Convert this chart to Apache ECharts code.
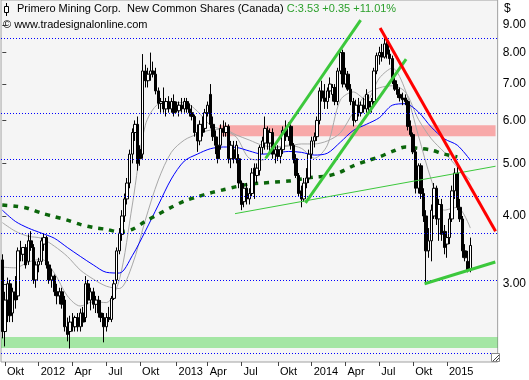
<!DOCTYPE html>
<html><head><meta charset="utf-8">
<script src="https://cdn.jsdelivr.net/npm/echarts@6/dist/echarts.min.js"></script>
<style>html,body{margin:0;padding:0;background:#fff;}#c{width:529px;height:380px;}</style>
</head><body><div id="c"></div>
<script>
// ---- data ----
const startDate = [2011, 8, 26];   // first weekly bar (Mon 26 Sep 2011)
const totalSlots = 191;            // weekly slots on the axis (incl. empty right margin)
// weekly bars: [open, high, low, close]
const weeklyOHLC = [
[3.32,3.40,2.38,2.45],[2.45,2.90,2.30,2.80],[2.80,3.08,2.55,3.00],[3.00,3.05,2.55,2.62],[2.65,2.95,2.55,2.90],
[2.90,3.10,2.70,2.80],[2.85,3.50,2.80,3.45],[3.45,3.60,3.30,3.40],[3.40,3.50,3.30,3.50],[3.50,3.55,3.20,3.25],
[3.30,3.70,3.25,3.60],[3.60,3.75,3.45,3.50],[3.50,3.55,3.00,3.05],[3.05,3.30,2.95,3.25],[3.25,3.35,3.15,3.30],
[3.30,3.65,3.25,3.60],[3.55,3.72,3.45,3.65],[3.65,3.68,3.20,3.25],[3.25,3.30,3.00,3.05],[3.05,3.20,2.95,3.10],
[3.10,3.12,2.85,2.90],[2.90,3.00,2.75,2.85],[2.85,2.95,2.75,2.90],[2.90,2.95,2.70,2.75],[2.80,2.85,2.45,2.50],
[2.50,2.60,2.35,2.42],[2.45,2.62,2.28,2.55],[2.55,2.65,2.45,2.50],[2.50,2.62,2.45,2.60],[2.60,2.65,2.45,2.50],
[2.50,2.70,2.45,2.65],[2.65,2.72,2.50,2.55],[2.60,3.10,2.55,3.00],[3.00,3.05,2.75,2.80],[2.80,2.95,2.68,2.90],
[2.90,2.95,2.70,2.75],[2.75,2.85,2.65,2.80],[2.80,2.85,2.60,2.65],[2.65,2.80,2.55,2.60],[2.60,2.65,2.34,2.50],
[2.50,2.65,2.45,2.60],[2.60,2.72,2.55,2.58],[2.58,2.85,2.55,2.82],[2.82,3.05,2.80,3.00],[3.05,3.50,3.00,3.45],
[3.45,3.80,3.40,3.72],[3.70,4.10,3.60,4.00],[4.00,4.40,3.90,4.30],[4.30,4.70,4.20,4.60],[4.60,5.30,4.50,5.20],
[5.20,5.80,5.00,5.70],[5.70,6.00,5.50,5.90],[5.90,6.10,4.85,5.00],[5.30,5.40,4.95,5.10],[5.20,7.95,5.10,7.40],
[7.40,7.60,6.90,7.10],[7.10,7.50,6.90,7.30],[7.30,8.00,7.10,7.40],[7.40,7.70,7.20,7.30],[7.30,7.50,6.70,6.80],
[6.80,6.90,6.30,6.45],[6.45,6.60,6.20,6.50],[6.50,6.90,6.20,6.30],[6.30,6.60,6.10,6.50],[6.50,6.65,6.20,6.30],
[6.30,6.60,6.20,6.50],[6.50,6.70,6.10,6.20],[6.40,6.50,6.20,6.25],[6.25,6.50,6.10,6.40],[6.40,6.60,6.20,6.30],
[6.30,6.60,6.20,6.50],[6.50,6.60,6.20,6.30],[6.30,6.45,6.10,6.20],[6.20,6.40,6.00,6.10],[6.10,6.15,5.60,5.70],
[5.70,5.90,5.25,5.50],[5.50,6.00,5.40,5.90],[5.90,6.10,5.60,5.70],[5.80,6.30,5.70,6.20],[6.20,6.50,6.10,6.40],
[6.70,7.00,5.80,5.90],[5.90,6.10,5.50,5.60],[5.60,5.75,5.20,5.40],[5.40,5.60,5.00,5.10],[5.40,5.90,5.30,5.80],
[5.80,6.00,5.60,5.70],[5.70,5.95,5.60,5.85],[5.85,5.90,5.00,5.10],[5.10,5.50,4.90,5.40],[5.30,5.50,5.00,5.10],
[5.10,5.50,5.00,5.40],[5.10,5.20,4.50,4.60],[4.60,4.65,4.10,4.20],[4.25,4.60,4.15,4.50],[4.50,4.60,4.20,4.30],
[4.30,4.50,4.20,4.40],[4.40,4.90,4.35,4.80],[4.90,5.00,4.30,4.75],[4.75,5.00,4.60,4.90],[4.85,5.40,4.75,5.35],
[5.35,5.60,5.20,5.50],[5.45,6.10,5.30,5.80],[5.75,5.85,5.30,5.45],[5.45,5.80,5.20,5.70],[5.70,5.80,5.10,5.20],
[5.20,5.40,5.00,5.30],[5.30,5.40,5.05,5.15],[5.15,5.35,5.00,5.30],[5.30,5.85,5.20,5.75],[5.75,6.00,5.50,5.60],
[5.60,5.95,5.50,5.85],[5.85,5.90,5.30,5.40],[5.40,5.45,5.00,5.10],[5.10,5.20,4.70,4.75],[4.75,4.80,4.35,4.40],
[4.45,4.55,4.15,4.30],[4.30,4.70,4.25,4.60],[4.60,4.90,4.50,4.70],[4.70,5.30,4.60,5.20],[5.20,5.60,5.10,5.50],
[5.50,5.70,5.35,5.60],[5.60,6.10,5.50,6.00],[6.00,6.90,5.90,6.80],[6.80,7.10,6.50,6.60],[6.60,7.00,6.30,6.50],
[6.50,6.90,6.30,6.80],[6.80,7.20,6.60,7.00],[6.70,7.00,6.50,6.90],[6.90,7.00,6.40,6.50],[6.50,7.50,6.40,7.40],
[7.40,8.15,7.30,8.00],[8.00,8.10,6.90,7.00],[7.00,7.50,6.90,7.30],[7.30,7.40,6.80,6.85],[6.85,7.00,6.40,6.50],
[6.50,6.60,5.85,6.00],[6.00,6.55,5.95,6.40],[6.40,6.60,6.10,6.20],[6.20,6.50,6.10,6.40],[6.40,6.60,6.20,6.30],
[6.30,6.85,6.20,6.70],[6.50,6.70,6.20,6.35],[6.35,6.60,6.20,6.50],[6.50,7.50,6.40,7.40],[7.40,8.00,7.30,7.90],
[7.90,8.20,7.60,8.00],[8.00,8.30,7.70,7.85],[7.85,8.50,7.80,8.30],[8.30,8.40,7.80,7.95],[7.95,8.10,7.60,7.80],
[7.80,7.90,7.00,7.10],[7.10,7.30,6.80,6.85],[6.85,7.00,6.60,6.70],[6.70,6.90,6.50,6.60],[6.60,6.75,6.40,6.55],
[6.60,6.70,6.40,6.50],[6.50,6.55,5.75,5.85],[5.85,6.00,5.60,5.65],[5.65,5.70,5.20,5.25],[5.25,5.30,4.40,4.50],
[4.50,5.00,4.40,4.95],[4.95,5.00,4.30,4.40],[4.40,4.50,3.90,4.00],[4.00,4.10,3.00,3.45],[3.45,3.80,3.35,3.60],
[3.60,4.20,3.30,4.10],[4.00,4.60,3.95,4.50],[4.50,4.55,3.85,3.95],[3.95,4.30,3.60,4.20],[4.20,4.30,3.60,3.70],
[3.75,3.85,3.40,3.50],[3.55,3.75,3.35,3.65],[3.65,4.05,3.55,3.95],[3.95,4.55,3.90,4.45],[4.45,4.90,4.30,4.80],
[4.80,4.92,4.10,4.15],[4.15,4.30,3.90,3.95],[3.95,4.00,3.35,3.45],[3.45,3.55,3.30,3.35],[3.30,3.45,3.15,3.18],
[3.20,3.65,3.15,3.53]
];
// moving averages read every 5 weeks (bar index -> value)
const maIndex = [0,5,10,15,20,25,30,35,40,45,50,55,60,65,70,75,80,85,90,95,100,105,110,115,120,125,130,135,140,145,150,155,160,165,170,175,180];
const maFastGray = [3.22,3.21,3.29,3.33,3.14,2.85,2.73,2.78,2.77,3.05,4.19,5.88,6.43,6.47,6.47,6.24,5.88,5.76,5.59,5.11,5.07,5.33,5.40,5.33,5.11,5.40,6.54,6.77,6.54,7.18,7.49,6.82,5.63,4.66,4.10,4.15,3.80];
const maSlowGray = [3.89,3.75,3.67,3.64,3.52,3.37,3.18,3.06,2.97,2.94,3.25,3.93,4.66,5.24,5.52,5.66,5.76,5.78,5.64,5.52,5.40,5.36,5.38,5.43,5.43,5.50,5.69,6.21,6.71,6.89,6.95,6.77,6.03,5.55,5.24,4.92,4.66];
const maBlue = [4.10,3.91,3.80,3.72,3.64,3.50,3.37,3.25,3.15,3.14,3.38,3.75,4.19,4.68,5.05,5.20,5.32,5.36,5.35,5.27,5.20,5.22,5.26,5.24,5.18,5.22,5.47,5.75,5.90,6.07,6.40,6.44,6.22,5.83,5.55,5.40,5.07];
const maLongIndex = [0,5,10,15,20,25,30,35,40,45,50,55,60,65,70,75,80,85,90,95,100,105,110,115,120,125,130,135,140,145,150,155,160,165,170,175];
const maLongGreen = [4.19,4.17,4.13,4.05,3.99,3.93,3.86,3.81,3.78,3.74,3.78,3.91,4.03,4.15,4.26,4.34,4.41,4.47,4.53,4.58,4.60,4.62,4.64,4.68,4.72,4.74,4.82,4.95,5.05,5.14,5.26,5.36,5.33,5.29,5.20,5.14];
// horizontal reference levels and price ticks
const gridLevels = [8.50, 6.18, 5.09, 4.35, 3.72, 3.05, 2.227];
const priceTicks = [3, 4, 5, 6, 7, 8, 9];
const monthNames = {3:'Apr', 6:'Jul', 9:'Okt'};
// drawn lines / zones: [barIndex, price]
const thinGreenLine = [[89.5, 4.04], [189.7, 4.94]];
const upperChannel = [[101.3, 5.11], [137.8, 9.18]];
const lowerChannel = [[116.6, 4.23], [155.3, 7.78]];
const redDownTrend = [[145.3, 8.88], [189.7, 3.75]];
const bottomSupport = [[162.4, 3.00], [189.6, 3.29]];
const redZone = [[83.3, 5.88], [189.7, 5.61]];
const greenZone = [[-0.5, 2.394], [190.5, 2.284]];
const lastClose = '3.53', lastChange = '+0.35', lastPct = '+11.01%';

// ---- build ----
const cats = [];
const d0 = Date.UTC(startDate[0], startDate[1], startDate[2]);
for (let i = 0; i < totalSlots; i++) cats.push(new Date(d0 + i * 7 * 864e5).toISOString().slice(0, 10));
function isQuarterStart(idx) {
  if (idx >= weeklyOHLC.length) return false;
  const s = cats[idx]; const m = +s.slice(5, 7) - 1; const d = +s.slice(8, 10);
  return (m % 3 === 0) && d <= 7;
}
function qLabel(s) {
  const m = +s.slice(5, 7) - 1;
  return m === 0 ? s.slice(0, 4) : monthNames[m];
}
const FONT = 'Liberation Sans, Arial, sans-serif';
const pairs = (idx, vals) => idx.map((x, k) => [x, vals[k]]);
const chart = echarts.init(document.getElementById('c'), null, {renderer: 'canvas'});
chart.setOption({
  animation: false,
  backgroundColor: '#ffffff',
  grid: {left: 1, right: 29, top: 0, bottom: 18, show: true, backgroundColor: '#f5f5f5', borderColor: '#a0a0a0', borderWidth: 1},
  xAxis: [{
    type: 'category', data: cats, boundaryGap: true, position: 'bottom',
    axisLine: {show: false},
    axisTick: {show: true, alignWithLabel: true, length: 4, interval: (i) => isQuarterStart(i), lineStyle: {color: '#444'}},
    axisLabel: {interval: (i) => isQuarterStart(i), formatter: qLabel, align: 'left', margin: 4, padding: [0, 0, 0, 2], fontSize: 11, fontFamily: FONT, color: '#000'},
    splitLine: {show: false}
  }, {
    type: 'value', min: -0.5, max: totalSlots - 0.5, show: false
  }],
  yAxis: [{
    type: 'log', logBase: 10, min: 2.153, max: 10, position: 'right',
    axisLine: {show: false},
    axisTick: {show: true, length: 4, customValues: priceTicks, lineStyle: {color: '#444'}},
    axisLabel: {customValues: priceTicks, formatter: (v) => Number(v).toFixed(2), margin: 5, fontSize: 12, fontFamily: FONT, color: '#000'},
    splitLine: {show: false}, minorTick: {show: false}
  }],
  graphic: [
    {type: 'line', shape: {x1: 6.5, y1: 3, x2: 6.5, y2: 16}, style: {stroke: '#000', lineWidth: 1}, z: 100},
    {type: 'rect', shape: {x: 4.5, y: 6.5, width: 4, height: 6}, style: {fill: '#fff', stroke: '#000', lineWidth: 1}, z: 101},
    {type: 'text', left: 17, top: 3, z: 100, style: {
      text: '{a|Primero Mining Corp.  New Common Shares (Canada)} {b|C:' + lastClose + ' ' + lastChange + ' ' + lastPct + '}',
      rich: {a: {fontSize: 11, fontFamily: FONT, fill: '#000'}, b: {fontSize: 11, fontFamily: FONT, fill: '#2ca02c'}}
    }},
    {type: 'text', left: 3, top: 19, z: 100, style: {text: '\u00a9 www.tradesignalonline.com', fontSize: 11, fontFamily: FONT, fill: '#000'}},
    {type: 'text', left: 504, top: 3, z: 100, style: {text: '$', fontSize: 12, fontFamily: FONT, fill: '#000'}},
    {type: 'rect', shape: {x: 491.5, y: 353.5, width: 8, height: 8}, style: {fill: '#fff', stroke: '#888', lineWidth: 1}, z: 100},
    {type: 'line', shape: {x1: 493, y1: 361, x2: 499, y2: 355}, style: {stroke: '#444', lineWidth: 1}, z: 101},
    {type: 'line', shape: {x1: 496, y1: 361, x2: 499, y2: 358}, style: {stroke: '#444', lineWidth: 1}, z: 101}
  ],
  series: [
    {type: 'line', xAxisIndex: 1, data: [], z: 1, silent: true,
     markLine: {silent: true, symbol: ['none', 'none'], label: {show: false},
       lineStyle: {color: '#0000ff', type: [1, 2], width: 1, opacity: 1}, data: gridLevels.map(v => ({yAxis: v}))}},
    {type: 'line', xAxisIndex: 1, data: pairs(maIndex, maSlowGray), showSymbol: false, smooth: 0.3, z: 2,
     lineStyle: {color: '#a8a8a8', width: 1}},
    {type: 'line', xAxisIndex: 1, data: pairs(maIndex, maFastGray), showSymbol: false, smooth: 0.3, z: 2,
     lineStyle: {color: '#a8a8a8', width: 1}},
    {type: 'line', xAxisIndex: 1, data: pairs(maIndex, maBlue), showSymbol: false, smooth: 0.3, z: 2,
     lineStyle: {color: '#0000ff', width: 1}},
    {type: 'line', xAxisIndex: 1, data: pairs(maLongIndex, maLongGreen), showSymbol: false, smooth: 0.3, z: 2,
     lineStyle: {color: '#0b660b', width: 3.5, type: [5, 6]}},
    {type: 'candlestick', xAxisIndex: 0, barWidth: 3, z: 3,
     data: weeklyOHLC.map(([o, h, l, c]) => [o, c, l, h]),
     itemStyle: {color: '#ffffff', color0: '#000000', borderColor: '#000000', borderColor0: '#000000', borderWidth: 1}},
    {type: 'line', xAxisIndex: 1, data: [], z: 4, silent: true,
     markArea: {silent: true, itemStyle: {color: 'rgba(255,0,0,0.31)'},
       data: [[{xAxis: redZone[0][0], yAxis: redZone[0][1]}, {xAxis: redZone[1][0], yAxis: redZone[1][1]}]]}},
    {type: 'line', xAxisIndex: 1, data: [], z: 4, silent: true,
     markArea: {silent: true, itemStyle: {color: 'rgba(0,200,0,0.33)'},
       data: [[{xAxis: greenZone[0][0], yAxis: greenZone[0][1]}, {xAxis: greenZone[1][0], yAxis: greenZone[1][1]}]]}},
    {type: 'line', xAxisIndex: 1, data: thinGreenLine, showSymbol: false, z: 5, lineStyle: {color: '#3cc83c', width: 1}},
    {type: 'line', xAxisIndex: 1, data: upperChannel, showSymbol: false, z: 5, lineStyle: {color: '#3cc83c', width: 3}},
    {type: 'line', xAxisIndex: 1, data: lowerChannel, showSymbol: false, z: 5, lineStyle: {color: '#3cc83c', width: 3}},
    {type: 'line', xAxisIndex: 1, data: bottomSupport, showSymbol: false, z: 5, lineStyle: {color: '#3cc83c', width: 3}},
    {type: 'line', xAxisIndex: 1, data: redDownTrend, showSymbol: false, z: 5, lineStyle: {color: '#ff0000', width: 3}}
  ]
});
</script>
</body></html>
